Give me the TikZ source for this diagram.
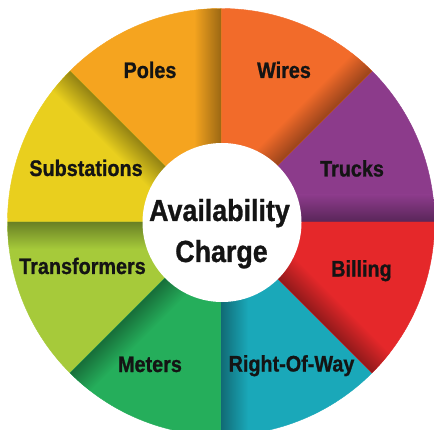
\documentclass[tikz,border=0pt]{standalone}
\usepackage{fontspec}
\newfontfamily\labfont[FakeStretch=0.88,FakeBold=0.9]{Liberation Sans}
\definecolor{ctrucks}{HTML}{8C3B8B}
\definecolor{cwires}{HTML}{F26B2A}
\definecolor{cpoles}{HTML}{F5A41F}
\definecolor{csubst}{HTML}{E9CF1E}
\definecolor{ctrans}{HTML}{A6CA3A}
\definecolor{cmeters}{HTML}{25AE5B}
\definecolor{crow}{HTML}{1AA8B9}
\definecolor{cbill}{HTML}{E5282A}
\definecolor{ctext}{HTML}{141414}
\tikzset{
  lab/.style={font=\labfont\bfseries\fontsize{22.5}{26}\selectfont, text=ctext, anchor=base, inner sep=0pt},
  ctr/.style={font=\labfont\bfseries\fontsize{30.5}{34}\selectfont, text=ctext, anchor=base, inner sep=0pt},
  hub/.style={circle, fill=white, minimum size=159pt, inner sep=0pt}
}
\begin{document}
\begin{tikzpicture}[x=1pt,y=1pt]
\useasboundingbox (0,0) rectangle (434,429);
\clip (0,0) rectangle (434,429);
\fill[white] (0,0) rectangle (434,429);
\coordinate (C) at (221,207);
\foreach \a/\c in {0/ctrucks,45/cwires,90/cpoles,135/csubst,180/ctrans,225/cmeters,270/crow,315/cbill} {
  \fill[\c, draw=\c, line width=0.4pt] (C) -- ++(\a:213.5) arc[start angle=\a, end angle=\a+45, radius=213.5] -- cycle;
  \begin{scope}[transform canvas={shift={(221,207)},rotate=\a}]
    \clip (0,0) -- (213.5,0) arc[start angle=0, end angle=45, radius=213.5] -- cycle;
    \shade[bottom color=\c!62!black, top color=\c] (0,-1) rectangle (220,27);
  \end{scope}
}
\node[hub] (hubc) at (222,206.5) {};
\node[ctr] (avail) at (219.5,208) {Availability};
\node[ctr] (charge) at (221.5,167) {Charge};
\node[lab] (poles) at (150,351) {Poles};
\node[lab] (wires) at (284,351) {Wires};
\node[lab] (subst) at (86,253) {Substations};
\node[lab] (trucks) at (352,252.5) {Trucks};
\node[lab] (trans) at (82.5,155) {Transformers};
\node[lab] (bill) at (361.5,152.5) {Billing};
\node[lab] (row) at (291.5,57.5) {Right-Of-Way};
\node[lab] (meters) at (150,57) {Meters};
\end{tikzpicture}
\end{document}
